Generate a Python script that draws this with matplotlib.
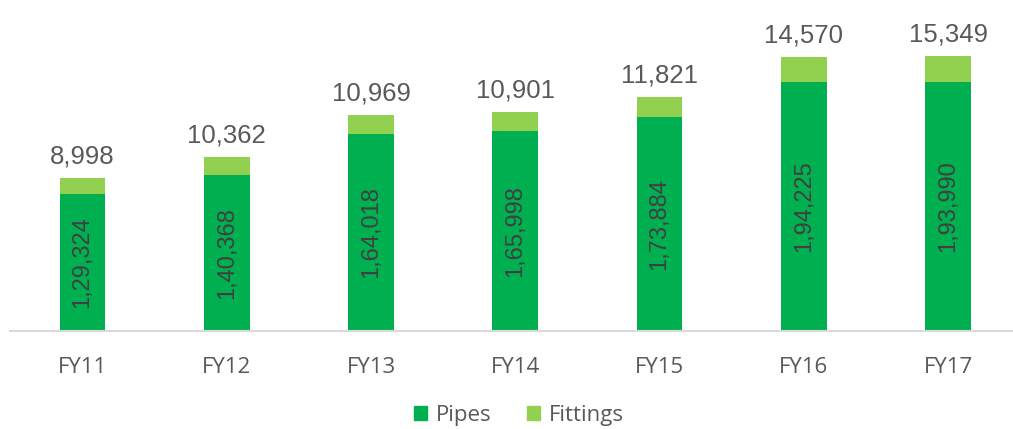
import matplotlib
matplotlib.use('Agg')
import matplotlib.pyplot as plt
from matplotlib.patches import Patch

# data
years = ['FY11', 'FY12', 'FY13', 'FY14', 'FY15', 'FY16', 'FY17']
pipes = [129324, 140368, 164018, 165998, 173884, 194225, 193990]
fittings = [8998, 10362, 10969, 10901, 11821, 14570, 15349]
pipe_labels = ['1,29,324', '1,40,368', '1,64,018', '1,65,998', '1,73,884', '1,94,225', '1,93,990']
fit_labels = ['8,998', '10,362', '10,969', '10,901', '11,821', '14,570', '15,349']

c_pipes = '#00B050'
c_fit = '#92D050'
grey = '#595959'

fig = plt.figure(figsize=(10.13, 4.29), dpi=100)
ax = fig.add_axes([10 / 1013, 0.229, 1 - 10 / 1013, 0.9126 - 0.229])

x = list(range(len(years)))
w = 0.317
ax.bar(x, pipes, w, bottom=0, color=c_pipes)
ax.bar(x, fittings, w, bottom=pipes, color=c_fit)

ax.set_ylim(50000, 220000)
ax.set_xlim(-0.503, 6.45)

for i in x:
    mid = (50000 + pipes[i]) / 2
    ax.text(i, mid, pipe_labels[i], rotation=90, ha='center', va='center',
            fontsize=17, color='#404040', family='Liberation Sans')
    ax.text(i, pipes[i] + fittings[i] + 5500, fit_labels[i], ha='center', va='bottom',
            fontsize=18.5, color=grey, family='Liberation Sans', clip_on=False)

ax.set_xticks(x)
ax.set_xticklabels(years, fontsize=16, color=grey, family='Open Sans')
ax.tick_params(axis='x', length=0, pad=19)
ax.set_yticks([])
for s in ['top', 'right', 'left']:
    ax.spines[s].set_visible(False)
ax.spines['bottom'].set_color('#D9D9D9')
ax.spines['bottom'].set_linewidth(1.5)

handles = [Patch(color=c_pipes, label='Pipes'), Patch(color=c_fit, label='Fittings')]
fig.legend(handles=handles, loc='center', bbox_to_anchor=(519 / 1013, 1 - 415 / 429),
           ncol=2, frameon=False, handlelength=0.6, handleheight=0.6,
           handletextpad=0.4, columnspacing=1.6,
           prop={'family': 'Open Sans', 'size': 16})
for t in fig.legends[0].get_texts():
    t.set_color(grey)

fig.savefig('out.png', dpi=100)
